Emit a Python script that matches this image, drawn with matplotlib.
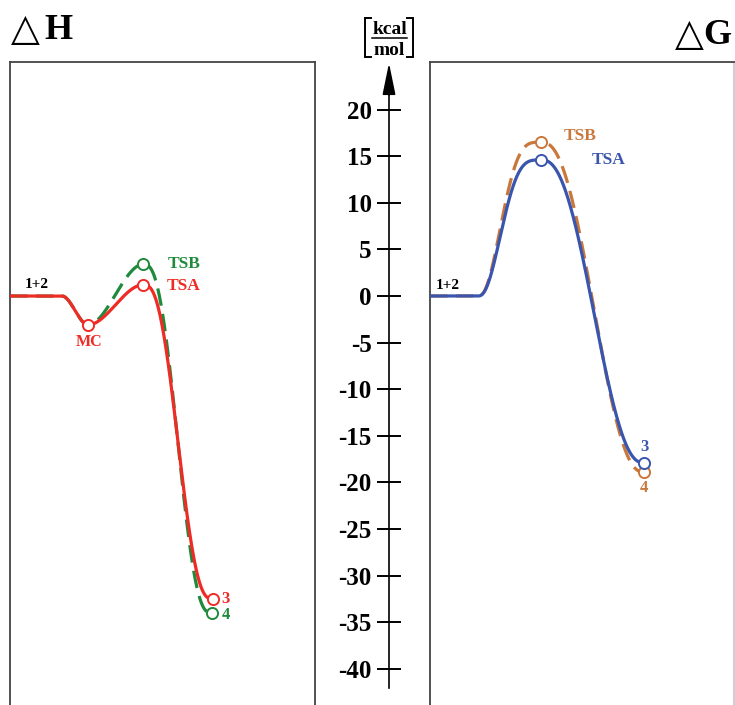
import numpy as np
import matplotlib
matplotlib.use("Agg")
import matplotlib.pyplot as plt
from matplotlib.lines import Line2D

# ---------------- data (kcal/mol) ----------------
tick_values = [20, 15, 10, 5, 0, -5, -10, -15, -20, -25, -30, -35, -40]
tick_labels = ["20", "15", "10", "5", "0", "-5", "-10", "-15", "-20", "-25", "-30", "-35", "-40"]

# Enthalpy profile (reaction coordinate, energy)
dH_states_A = ["1+2", "1+2", "MC", "TSA", "3"]
dH_x_A = [0, 52, 78, 133, 203]
dH_v_A = [0.0, 0.0, -3.1, 1.2, -32.5]
dH_states_B = ["1+2", "1+2", "MC", "TSB", "4"]
dH_x_B = [0, 52, 78, 133, 202]
dH_v_B = [0.0, 0.0, -3.1, 3.4, -34.0]

# Free-energy profile
dG_states_A = ["1+2", "1+2", "TSA", "3"]
dG_x_A = [0, 48, 111, 214]
dG_v_A = [0.0, 0.0, 14.6, -17.9]
dG_states_B = ["1+2", "1+2", "TSB", "4"]
dG_x_B = [0, 48, 111, 214]
dG_v_B = [0.0, 0.0, 16.5, -18.9]

# ---------------- geometry helpers ----------------
W, H = 735, 705
fig = plt.figure(figsize=(W / 100, H / 100), dpi=100)
V0_PX, SCALE = 296.0, 9.32


def v_at(py):
    return (V0_PX - py) / SCALE


def px_axes(x0, y0, x1, y1):
    return fig.add_axes([x0 / W, 1 - y1 / H, (x1 - x0) / W, (y1 - y0) / H])


def fx(px):
    return px / W


def fy(py):
    return 1 - py / H


def beta_step(n, a, b):
    t = np.linspace(0, 1, n)
    f = np.clip(t, 1e-9, 1) ** (a - 1) * np.clip(1 - t, 1e-9, 1) ** (b - 1)
    c = np.concatenate([[0], np.cumsum((f[1:] + f[:-1]) / 2)])
    return t, c / c[-1]


def path(xs, vs, shapes):
    X, V = [], []
    for i in range(len(xs) - 1):
        a, b = shapes[i]
        t, s = beta_step(300, a, b)
        X.append(xs[i] + (xs[i + 1] - xs[i]) * t)
        V.append(vs[i] + (vs[i + 1] - vs[i]) * s)
    return np.concatenate(X), np.concatenate(V)


SERIF = "Liberation Serif"
RED, GREEN = "#EE2B24", "#1F8A3B"
BLUE, ORANGE = "#3A55AE", "#C9773A"
SPINE = "#444444"
LW = 2.3


def panel(x0, x1):
    ax = px_axes(x0, 62, x1, 705)
    ax.set_xlim(0, x1 - x0)
    ax.set_ylim(v_at(705), v_at(62))
    ax.set_xticks([])
    ax.set_yticks([])
    ax.spines['bottom'].set_visible(False)
    for s in ('left', 'right', 'top'):
        ax.spines[s].set_color(SPINE)
        ax.spines[s].set_linewidth(1.3)
    ax.patch.set_alpha(0)
    return ax


mk = dict(marker='o', ms=8, mfc='white', mew=1.4, ls='none', zorder=5)

# ---------------- left panel: dH ----------------
axL = panel(10, 315)
shapesH = [(1, 1), (2, 2), (2, 2), (3.0, 3.0)]
x, v = path(dH_x_B, dH_v_B, shapesH)
axL.plot(x, v, color=GREEN, lw=LW, dashes=(5.5, 2.6), zorder=2)
x, v = path(dH_x_A, dH_v_A, shapesH)
axL.plot(x, v, color=RED, lw=LW, zorder=3, solid_capstyle='butt')
axL.plot(dH_x_B[3:], dH_v_B[3:], mec=GREEN, **mk)
axL.plot(dH_x_A[2:], dH_v_A[2:], mec=RED, **mk)

tk = dict(family=SERIF, weight='bold', ha='center', va='center')
axL.text(26.5, 1.25, "1+2", color='black', fontsize=11, **tk)
axL.text(79, -4.9, "MC", color=RED, fontsize=11.5, **tk)
axL.text(174, 3.45, "TSB", color=GREEN, fontsize=12.5, **tk)
axL.text(174, 1.05, "TSA", color=RED, fontsize=12.5, **tk)
axL.text(216, -32.5, "3", color=RED, fontsize=12, **tk)
axL.text(216, -34.2, "4", color=GREEN, fontsize=12, **tk)

# ---------------- right panel: dG ----------------
axR = panel(430, 734)
axR.spines['right'].set_color('#cccccc')
gshapes = [(1, 1), (2.6, 4.0), (2.6, 2.5)]
x, v = path(dG_x_B, dG_v_B, gshapes)
axR.plot(x, v, color=ORANGE, lw=LW, dashes=(5.5, 2.6), zorder=2)
x, v = path(dG_x_A, dG_v_A, gshapes)
axR.plot(x, v, color=BLUE, lw=LW, zorder=3)
axR.plot(dG_x_B[2:], dG_v_B[2:], mec=ORANGE, **mk)
axR.plot(dG_x_A[2:], dG_v_A[2:], mec=BLUE, **mk)

axR.text(17.5, 1.1, "1+2", color='black', fontsize=11, **tk)
axR.text(150.5, 17.2, "TSB", color=ORANGE, fontsize=12.5, **tk)
axR.text(179, 14.55, "TSA", color=BLUE, fontsize=12.5, **tk)
axR.text(214.5, -16.2, "3", color=BLUE, fontsize=12, **tk)
axR.text(214, -20.6, "4", color=ORANGE, fontsize=12, **tk)

# ---------------- middle energy axis ----------------
axM = px_axes(389, 0, 400, 705)
axM.set_ylim(v_at(705), v_at(0))
axM.set_xlim(0, 1)
for s in ('right', 'top', 'bottom'):
    axM.spines[s].set_visible(False)
axM.spines['left'].set_linewidth(1.2)
axM.spines['left'].set_bounds(v_at(688), v_at(88))
axM.patch.set_alpha(0)
axM.set_xticks([])
axM.set_yticks(tick_values)
axM.set_yticklabels(tick_labels)
axM.tick_params(axis='y', direction='inout', length=17, width=1.4, pad=4,
                labelsize=18)
for lab in axM.get_yticklabels():
    lab.set_family(SERIF)
    lab.set_weight('bold')
axM.annotate('', xy=(0, v_at(63)), xytext=(0, v_at(95)),
             xycoords=('axes fraction', 'data'),
             textcoords=('axes fraction', 'data'),
             arrowprops=dict(arrowstyle='-|>,head_length=1.95,head_width=0.4',
                             color='black', lw=1.2, shrinkA=0, shrinkB=0,
                             mutation_scale=10))

# unit label [kcal / mol]
fig.text(fx(389.5), fy(33.5), "kcal", family=SERIF, weight='bold',
         fontsize=14, ha='center', va='baseline')
fig.text(fx(389.5), fy(55), "mol", family=SERIF, weight='bold',
         fontsize=14, ha='center', va='baseline')
fig.add_artist(Line2D([fx(372), fx(407)], [fy(37.5), fy(37.5)],
                      color='black', lw=1.1))
for xb, xs in ((365, 370.5), (413, 407.5)):
    fig.add_artist(Line2D([fx(xs), fx(xb), fx(xb), fx(xs)],
                          [fy(18), fy(18), fy(57), fy(57)],
                          color='black', lw=1.4, solid_joinstyle='miter'))

# ---------------- titles ----------------
fig.text(fx(11), fy(30), "\u25B3", family="DejaVu Sans", fontsize=27,
         ha='left', va='center')
fig.text(fx(44), fy(30.5), "H", family=SERIF, weight='bold', fontsize=26,
         ha='left', va='center')
fig.text(fx(704), fy(35), "\u25B3", family="DejaVu Sans", fontsize=27,
         ha='right', va='center')
fig.text(fx(731), fy(35.5), "G", family=SERIF, weight='bold', fontsize=26,
         ha='right', va='center')

fig.savefig("out.png", dpi=100)
